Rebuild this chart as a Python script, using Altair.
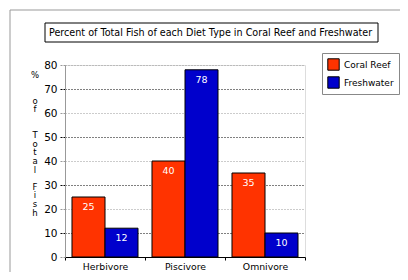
import altair as alt
import pandas as pd

categories = ["Herbivore", "Piscivore", "Omnivore"]
series = ["Coral Reef", "Freshwater"]
coral = [25, 40, 35]
fresh = [12, 78, 10]
colors = ["#FF3300", "#0000CC"]
title_text = "Percent of Total Fish of each Diet Type in Coral Reef and Freshwater"
BL = "\u2800"
y_title = ["%", BL, BL, "o", "f", BL, BL, "T", "o", "t", "a", "l", BL, "F", "i", "s", "h"]
y_ticks = [0, 10, 20, 30, 40, 50, 60, 70, 80]

rows = []
for i, c in enumerate(categories):
    rows.append({"diet": c, "habitat": series[0], "pct": coral[i]})
    rows.append({"diet": c, "habitat": series[1], "pct": fresh[i]})
df = pd.DataFrame(rows)
one = pd.DataFrame({"t": [title_text], "yt": ["\n".join(y_title)]})

FONT = "DejaVu Sans"
alt_color = {"condition": {"test": "datum.value % 20 === 0", "value": "#999"}, "value": "#000"}

x = alt.X("diet:N", sort=categories,
          scale=alt.Scale(paddingInner=0, paddingOuter=0),
          axis=alt.Axis(title=None, labelAngle=0, domainColor="black", tickColor="black",
                        tickBand="extent", tickSize=3, labelFont=FONT, labelFontSize=9.3,
                        labelColor="black", labelPadding=2, labelBaseline="top", grid=False))
xo = alt.XOffset("habitat:N", sort=series,
                 scale=alt.Scale(paddingOuter=0.212, paddingInner=0))
y = alt.Y("pct:Q", scale=alt.Scale(domain=[0, 80], nice=False),
          axis=alt.Axis(values=y_ticks, title=None,
                        labelFont=FONT, labelFontSize=10.5, labelColor="black", labelPadding=3,
                        tickSize=5, tickColor=alt_color, tickDash=[2, 1], domainColor="#999",
                        grid=True, gridDash=[1, 2], gridColor=alt_color))

color = alt.Color("habitat:N", sort=series,
                  scale=alt.Scale(domain=series, range=colors),
                  legend=alt.Legend(title=None, orient="none", legendX=257, legendY=-12,
                                    strokeColor="#888", padding=5, symbolType="square",
                                    symbolSize=130, symbolStrokeColor="black",
                                    symbolStrokeWidth=1, symbolOpacity=1, rowPadding=5,
                                    clipHeight=13,
                                    labelFont=FONT, labelFontSize=9, labelColor="black",
                                    labelOffset=4))

bars = alt.Chart(df).mark_bar(stroke="black", strokeWidth=1).encode(
    x=x, xOffset=xo, y=y, color=color)

labels = alt.Chart(df).mark_text(color="white", dy=10, baseline="middle",
                                 font=FONT, fontSize=9.5).encode(
    x=x, xOffset=xo, y=y, text="pct:Q")

y_title_mark = alt.Chart(one).mark_text(align="center", baseline="top", font=FONT,
                                        fontSize=8.5, lineHeight=8.6, lineBreak="\n",
                                        color="black").encode(
    x=alt.value(-30), y=alt.value(6), text="yt:N")

title_box = alt.Chart(one).mark_rect(filled=False, stroke="black", strokeWidth=1).encode(
    x=alt.value(-20), x2=alt.value(313), y=alt.value(-42), y2=alt.value(-23))
title = alt.Chart(one).mark_text(align="left", baseline="alphabetic", font=FONT,
                                 fontSize=9.6, color="black").encode(
    x=alt.value(-16), y=alt.value(-29), text="t:N")
frame_v = alt.Chart(one).mark_rule(color="#999").encode(
    x=alt.value(-55), y=alt.value(-55), y2=alt.value(300))
frame_h = alt.Chart(one).mark_rule(color="#999").encode(
    x=alt.value(-55), x2=alt.value(400), y=alt.value(-55))

chart = alt.layer(frame_v, frame_h, bars, labels, y_title_mark, title_box, title).properties(
    width=240, height=192,
    autosize=alt.AutoSizeParams(type="none"),
    padding={"left": 57, "top": 57, "right": 95, "bottom": 15},
).configure_view(stroke=None).configure(background="white")

chart.save("out.html", embed_options={"renderer": "svg", "actions": False})
